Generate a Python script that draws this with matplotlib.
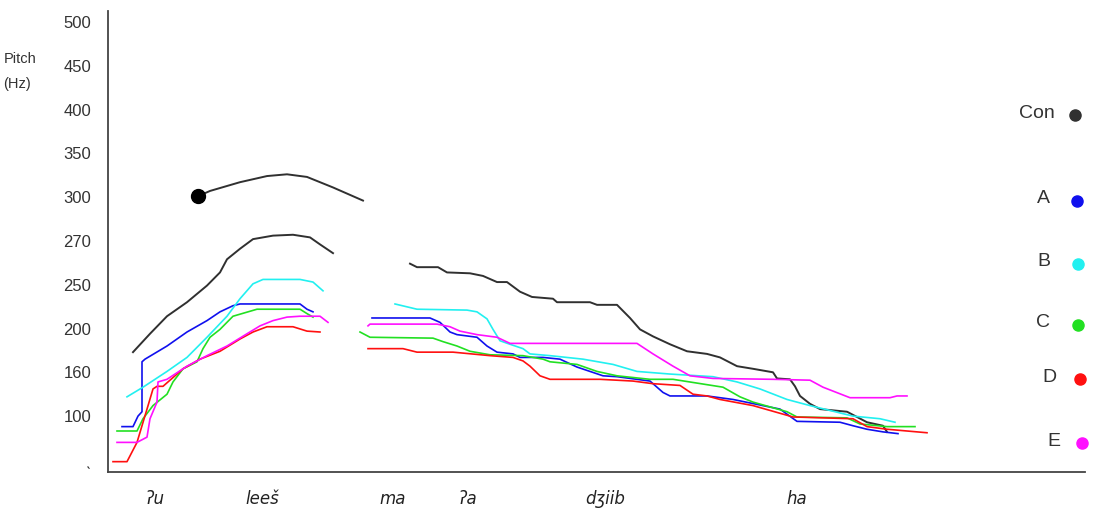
import numpy as np
import matplotlib
matplotlib.use("Agg")
import matplotlib.pyplot as plt

plt.rcParams['font.family'] = ['Liberation Sans', 'DejaVu Sans']
nan = np.nan

# y tick positions and the (odd) labels printed on the original axis
ytick_pos = [0, 50, 100, 150, 200, 250, 300, 350, 400, 450, 500]
ytick_lab = ["ˎ", "100", "160", "200", "250", "270", "300", "350", "400", "450", "500"]

# syllables on the time axis
syl_x = [47, 154, 285, 360, 497, 689]
syl_lab = ["ʔu", "leeš", "ma", "ʔa", "dʒiib", "ha"]

# Con (black): upper arc, lower left contour, right contour
con_x = [90, 102, 132, 159, 179, 199, 225, 255, nan,
         25, 42, 59, 79, 99, 112, 119, 132, 145, 165, 185, 202, 212, 225, nan,
         302, 309, 330, 339, 362, 375, 389, 399, 412, 424, 445, 449, 482, 489, 509, 522,
         532, 545, 562, 579, 599, 612, 629, 645, 665, 669, 682, 687, 692, 702, 712, 739,
         749, 759, 775, 779]
con_y = [300, 306, 316, 323, 325, 322, 310, 295, nan,
         122, 143, 163, 179, 198, 213, 228, 240, 251, 255, 256, 253, 245, 235, nan,
         223, 219, 219, 213, 212, 209, 202, 202, 191, 185, 183, 179, 179, 176, 176, 161,
         148, 140, 131, 123, 120, 116, 106, 103, 99, 92, 91, 83, 72, 63, 57, 54,
         48, 42, 38, 31]

a_x = [14, 25, 30, 34, 34, 37, 59, 79, 99, 112, 125, 132, 192, 199, 205, nan,
       264, 322, 332, 342, 349, 369, 379, 389, 405, 412, 435, 452, 469, 482, 495, 509,
       542, 555, 562, 599, 625, 672, 689, 732, 745, 759, 775, 790]
a_y = [37, 37, 49, 54, 111, 114, 129, 145, 158, 168, 175, 177, 177, 171, 168, nan,
       161, 161, 156, 145, 142, 139, 129, 122, 120, 116, 116, 114, 105, 100, 95, 94,
       89, 76, 72, 72, 68, 57, 43, 42, 38, 34, 31, 29]

b_x = [19, 35, 59, 79, 99, 119, 132, 145, 155, 192, 205, 215, nan,
       287, 309, 359, 369, 379, 385, 392, 402, 415, 422, 442, 475, 505, 529, 562, 605,
       629, 652, 679, 702, 745, 772, 787]
b_y = [71, 82, 100, 116, 139, 163, 183, 200, 205, 205, 202, 192, nan,
       177, 171, 170, 168, 160, 148, 135, 131, 126, 120, 118, 114, 108, 100, 97, 94,
       88, 80, 68, 61, 49, 46, 42]

c_x = [9, 29, 35, 45, 59, 65, 75, 89, 95, 102, 112, 125, 149, 192, 199, 205, nan,
       252, 262, 325, 335, 349, 362, 382, 415, 435, 442, 469, 489, 509, 542, 565, 615,
       632, 645, 679, 689, 739, 752, 779, 807]
c_y = [32, 32, 46, 61, 74, 88, 103, 111, 126, 139, 148, 163, 171, 171, 166, 162, nan,
       145, 139, 138, 134, 129, 123, 119, 118, 114, 111, 108, 100, 95, 91, 91, 82,
       71, 65, 54, 48, 47, 40, 37, 37]

d_x = [5, 19, 29, 34, 39, 45, 49, 55, 75, 92, 112, 132, 145, 159, 185, 199, 212, nan,
       260, 295, 309, 345, 382, 405, 415, 422, 432, 442, 492, 525, 545, 572, 585, 599,
       612, 645, 685, 745, 759, 779, 819]
d_y = [-3, -3, 19, 38, 57, 80, 83, 83, 103, 114, 123, 137, 145, 151, 151, 146, 145, nan,
       126, 126, 122, 122, 118, 116, 112, 106, 95, 91, 91, 89, 86, 84, 74, 72,
       68, 61, 48, 46, 37, 34, 30]

e_x = [9, 29, 39, 42, 49, 50, 59, 79, 99, 119, 139, 152, 165, 179, 192, 212, 220, nan,
       260, 262, 329, 342, 352, 369, 389, 402, 529, 545, 565, 582, 605, 665, 702, 715,
       742, 782, 789, 799]
e_y = [19, 19, 25, 46, 65, 88, 91, 106, 118, 129, 143, 152, 158, 162, 163, 163, 156, nan,
       152, 154, 154, 151, 146, 142, 139, 132, 132, 120, 106, 95, 92, 91, 90, 82,
       70, 70, 72, 72]

series = [("Con", con_x, con_y, "#303030"),
          ("A", a_x, a_y, "#1010ee"),
          ("B", b_x, b_y, "#22f0f0"),
          ("C", c_x, c_y, "#22e022"),
          ("D", d_x, d_y, "#ff1010"),
          ("E", e_x, e_y, "#ff10ff")]

fig = plt.figure(figsize=(10.94, 5.10), dpi=100)
ax = fig.add_axes([108/1094, 1-473/510, 977/1094, 461/510])

for name, xs, ys, col in series:
    ax.plot(xs, ys, color=col, lw=1.4 if name == "Con" else 1.2)
# start dot on the upper Con arc
ax.plot(con_x[0], con_y[0], "o", color="black", ms=10)

ax.set_xlim(0, 977)
ax.set_ylim(-14.8, 511.4)
ax.set_yticks(ytick_pos)
ax.set_yticklabels(ytick_lab, fontsize=12, color="#333333",
                   family=["Liberation Sans", "DejaVu Sans"])
ax.set_xticks(syl_x)
ax.set_xticklabels(syl_lab, fontsize=12, style="italic", color="#222222",
                   family=["DejaVu Sans"])
ax.tick_params(axis="y", length=0, pad=12)
ax.tick_params(axis="x", length=0, pad=12)
for s in ["top", "right"]:
    ax.spines[s].set_visible(False)
ax.spines["left"].set_color("#444444")
ax.spines["bottom"].set_color("#444444")
ax.spines["left"].set_linewidth(1.3)
ax.spines["bottom"].set_linewidth(1.3)

fig.text(0.003, 1-72/510, "Pitch\n(Hz)", fontsize=10.5, color="#333333",
         va="center", ha="left", linespacing=2.0)

# legend at the right: label + coloured dot
leg_y = [116, 202, 265, 326, 380, 444]
leg_tx = [1055, 1050, 1050, 1050, 1057, 1060]
leg_dx = [1075, 1077, 1078, 1078, 1080, 1082]
for (name, xs, ys, col), py, tx, dx in zip(series, leg_y, leg_tx, leg_dx):
    fig.text(tx/1094, 1-(py-3)/510, name, fontsize=14, color="#333333",
             ha="right", va="center")
    ax.plot([dx/1094], [1-py/510], "o", color=col, ms=8,
            transform=fig.transFigure, clip_on=False)

fig.savefig("out.png", dpi=100)
